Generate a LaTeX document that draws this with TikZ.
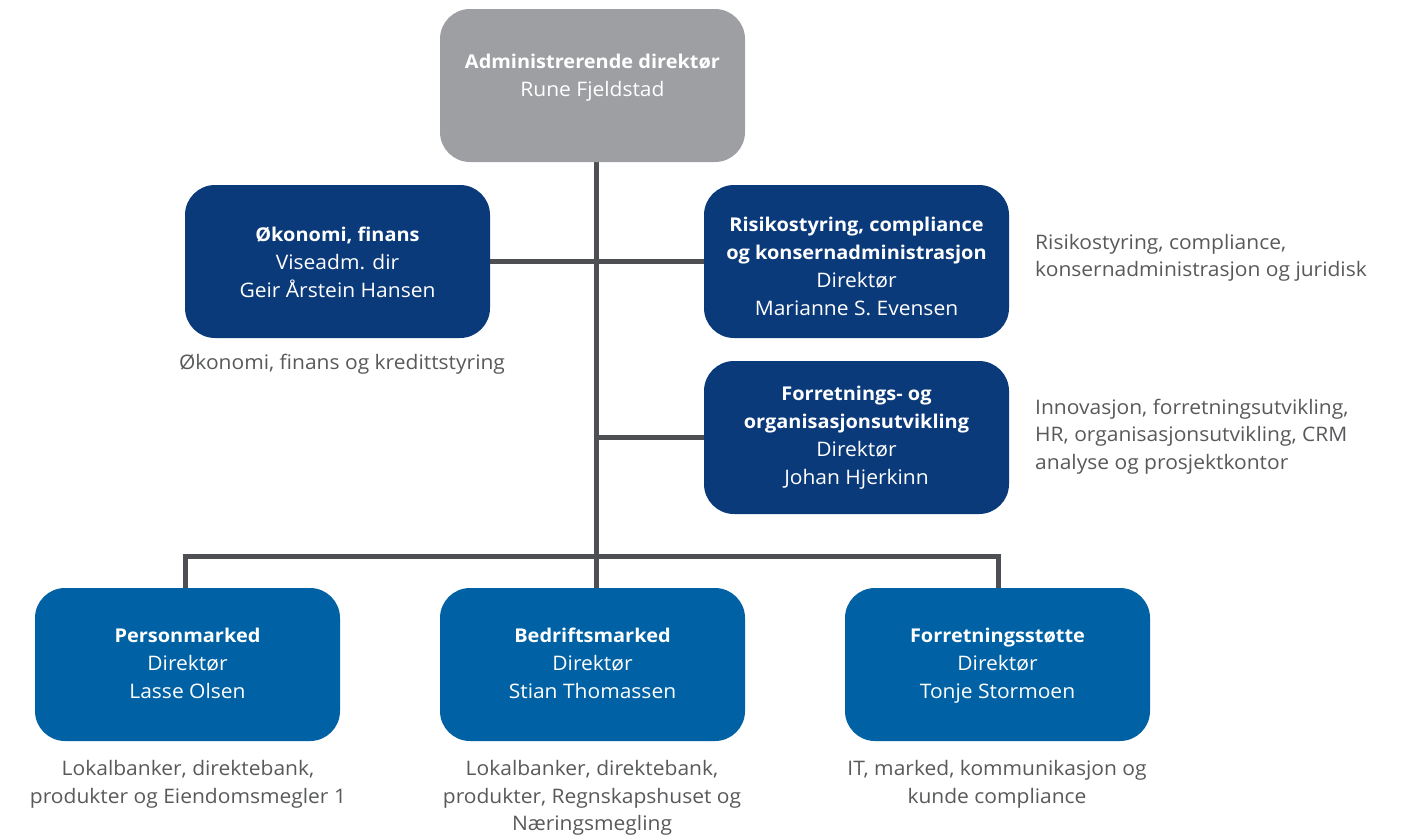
\documentclass[tikz,border=0pt]{standalone}
\usepackage{fontspec}
\setmainfont{Open Sans}[FakeStretch=1.05]
\definecolor{ceogray}{HTML}{9D9FA3}
\definecolor{navy}{HTML}{0B3A7B}
\definecolor{midblue}{HTML}{0062A4}
\definecolor{linegray}{HTML}{4D4F53}
\definecolor{desc}{HTML}{58595B}
\newcommand\hd[1]{{\fontsize{19}{28}\selectfont\bfseries #1}}
\tikzset{
  orgbox/.style={rectangle, rounded corners=30pt, minimum width=305pt, minimum height=153pt,
    inner sep=0pt, text=white, align=center, font=\fontsize{20}{28}\selectfont},
  ceobox/.style={orgbox, fill=ceogray},
  navybox/.style={orgbox, fill=navy},
  bluebox/.style={orgbox, fill=midblue},
  boxtext/.style={text=white, align=center, inner sep=0pt, font=\fontsize{20}{28}\selectfont},
  desctext/.style={text=desc, inner sep=0pt, font=\fontsize{20}{27.5}\selectfont},
  conn/.style={draw=linegray, line width=5pt},
}
\begin{document}
\begin{tikzpicture}[x=1pt,y=-1pt]
\useasboundingbox (0,0) rectangle (1404,839);
% connectors (drawn first, under boxes)
\coordinate (trunktop) at (596,162);
\coordinate (busL) at (185,556);
\coordinate (busR) at (998,556);
\coordinate (pTop) at (185,588);
\coordinate (bTop) at (596,588);
\coordinate (sTop) at (998,588);
\coordinate (midR) at (596,437.5);
\draw[conn] (trunktop) -- (bTop);
\draw[conn] (pTop) -- (busL) -- (busR) -- (sTop);
% boxes
\node[ceobox] (ceo) at (592.5,85.5) {};
\node[boxtext] (ceotext) at (592.5,78) {\hd{Administrerende direktør}\\Rune Fjeldstad};
\node[navybox] (okon) at (337.5,261.5) {};
\node[boxtext] (okontext) at (337.5,262) {\hd{Økonomi, finans}\\Viseadm. dir\\Geir Årstein Hansen};
\node[navybox] (risk) at (856.5,261.5) {};
\node[boxtext] (risktext) at (856.5,266) {\hd{Risikostyring, compliance}\\\hd{og konsernadministrasjon}\\Direktør\\Marianne S. Evensen};
\node[navybox] (forr) at (856.5,437.5) {};
\node[boxtext] (forrtext) at (856.5,438) {\hd{Forretnings- og}\\\hd{organisasjonsutvikling}\\Direktør\\Johan Hjerkinn};
\node[bluebox] (pers) at (187.5,664.5) {};
\node[boxtext] (perstext) at (187.5,663) {\hd{Personmarked}\\Direktør\\Lasse Olsen};
\node[bluebox] (bedr) at (592.5,664.5) {};
\node[boxtext] (bedrtext) at (592.5,663) {\hd{Bedriftsmarked}\\Direktør\\Stian Thomassen};
\node[bluebox] (stot) at (997.5,664.5) {};
\node[boxtext] (stottext) at (997.5,665.5) {\hd{Forretningsstøtte}\\Direktør\\Tonje Stormoen};
% side connectors
\draw[conn] (okon.east) -- (risk.west);
\draw[conn] (midR) -- (forr.west);
% descriptions
\node[desctext, align=center] (d1) at (342,364) {Økonomi, finans og kredittstyring};
\node[desctext, align=left, anchor=west] (d2) at (1035,258) {Risikostyring, compliance,\\konsernadministrasjon og juridisk};
\node[desctext, align=left, anchor=west] (d3) at (1035,436.5) {Innovasjon, forretningsutvikling,\\HR, organisasjonsutvikling, CRM\\analyse og prosjektkontor};
\node[desctext, align=center] (d4) at (188,784.5) {Lokalbanker, direktebank,\\produkter og Eiendomsmegler 1};
\node[desctext, align=center] (d5) at (592,798) {Lokalbanker, direktebank,\\produkter, Regnskapshuset og\\Næringsmegling};
\node[desctext, align=center] (d6) at (997,784.5) {IT, marked, kommunikasjon og\\kunde compliance};
\end{tikzpicture}
\end{document}
